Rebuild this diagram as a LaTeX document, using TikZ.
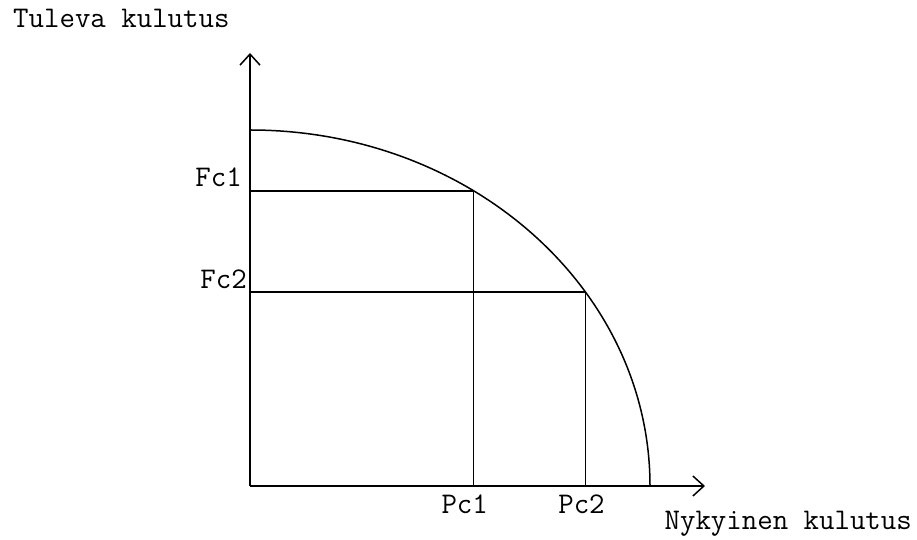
\documentclass[tikz,border=0pt]{standalone}
\usepackage{fontspec}
\usetikzlibrary{arrows.meta,calc}

\begin{document}
\begin{tikzpicture}[
  x=1pt, y=1pt,
  axis/.style={-{Straight Barb[length=11pt,width=20pt]}, line width=1.5pt},
  guide/.style={line width=1.5pt},
  lbl/.style={inner sep=0pt, font=\ttfamily\fontsize{30}{34}\selectfont}
]
\useasboundingbox (0,0) rectangle (917,540);

% axes
\coordinate (O) at (250,54);
\coordinate (ytop) at (250,487);
\coordinate (xend) at (705,54);
\draw[axis] (O) -- (ytop);
\draw[axis] (O) -- (xend);

% possibility curve
\coordinate (top) at ($(O)+(0,356)$);
\draw[guide] (top) arc[start angle=90, end angle=0, x radius=400, y radius=356];

\coordinate (P1) at ($(O)+(56:400 and 356)$);
\coordinate (P2) at ($(O)+(33:400 and 356)$);

\draw[guide] (P1) -- (P1 |- O);
\draw[guide] (P1) -- (P1 -| O);
\draw[guide] (P2) -- (P2 |- O);
\draw[guide] (P2) -- (P2 -| O);

\node[lbl, anchor=base east] (fc1) at ($(P1 -| O)+(-8,4)$) {Fc1};
\node[lbl, anchor=base east] (fc2) at ($(P2 -| O)+(-3,4)$) {Fc2};
\node[lbl, anchor=base] (pc1) at ($(P1 |- O)+(-9,-28)$) {Pc1};
\node[lbl, anchor=base] (pc2) at ($(P2 |- O)+(-4,-28)$) {Pc2};

\node[lbl, anchor=base west] (ylabel) at (13,512) {Tuleva kulutus};
\node[lbl, anchor=base east] (xlabel) at (912,10) {Nykyinen kulutus};

\end{tikzpicture}
\end{document}
